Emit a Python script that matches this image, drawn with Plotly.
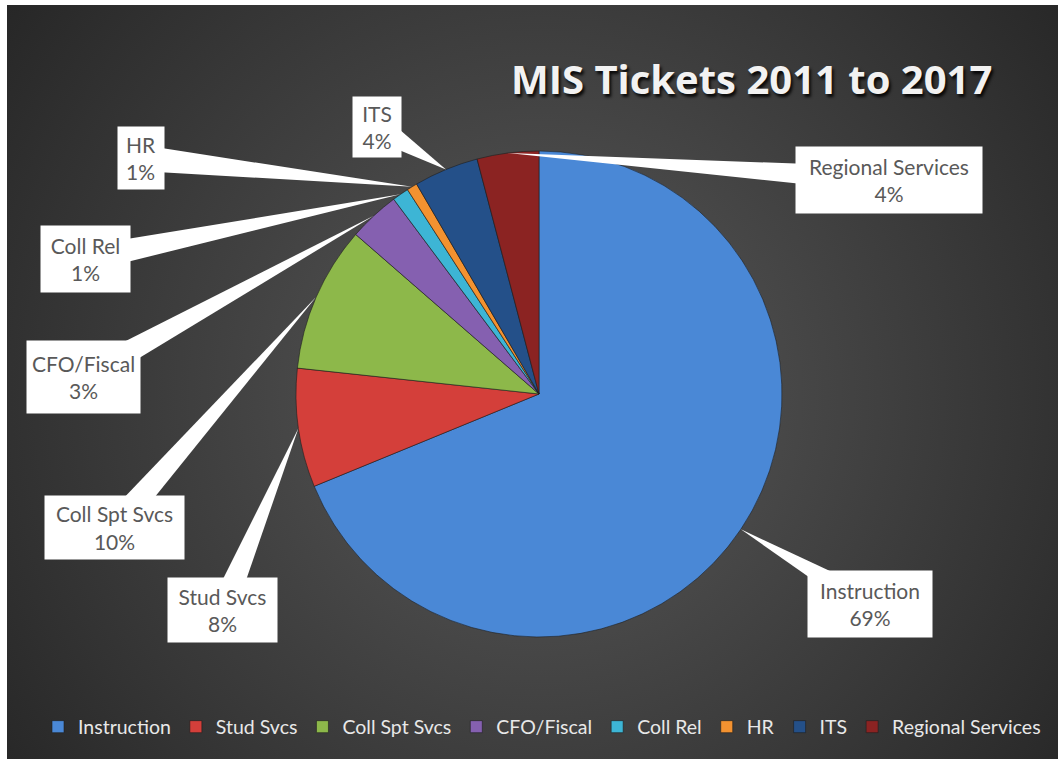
import math, base64
import plotly.graph_objects as go

categories = ["Instruction", "Stud Svcs", "Coll Spt Svcs", "CFO/Fiscal", "Coll Rel", "HR", "ITS", "Regional Services"]
values = [68.8, 7.9, 9.7, 3.4, 1.1, 0.7, 4.3, 4.1]
colors = ["#4A88D6", "#D43F3A", "#8DB84A", "#8560B0", "#3DB5D5", "#F39230", "#245089", "#8B2322"]
# label box centers (px) and sizes
box_centers = [(870, 604), (222, 610), (114, 527), (83, 377), (85, 259), (141, 158), (377, 127), (889, 180)]
box_sizes = [(124, 66), (109, 64), (139, 63), (113, 72), (89, 66), (46, 62), (48, 60), (186, 66)]

W, H = 1060, 762
cx, cy, R = 539, 394, 243

def px(x):
    return x / W

def py(y):
    return 1 - y / H

fig = go.Figure()

svg = f'''<svg xmlns="http://www.w3.org/2000/svg" width="{W}" height="{H}">
<defs><radialGradient id="g" cx="{cx}" cy="{cy}" r="680" gradientUnits="userSpaceOnUse">
<stop offset="0" stop-color="#5a5a5a"/><stop offset="1" stop-color="#262626"/></radialGradient></defs>
<rect x="0" y="0" width="{W}" height="{H}" fill="url(#g)"/></svg>'''
src = "data:image/svg+xml;base64," + base64.b64encode(svg.encode()).decode()

fig.add_trace(go.Pie(
    labels=categories, values=values, sort=False, direction="clockwise", rotation=0,
    marker=dict(colors=colors, line=dict(color="rgba(30,30,30,0.6)", width=1)),
    textinfo="none", hoverinfo="label+percent",
    domain=dict(x=[px(cx - R), px(cx + R)], y=[py(cy + R), py(cy - R)]),
))

total = sum(values)
shapes = []
annotations = []
cum = 0.0
for i, (cat, v) in enumerate(zip(categories, values)):
    mid = (cum + v / 2) / total * 2 * math.pi
    cum += v
    tx = cx + R * math.sin(mid)
    ty = cy - R * math.cos(mid)
    bx, by = box_centers[i]
    bw, bh = box_sizes[i]
    dx, dy = bx - tx, by - ty
    L = math.hypot(dx, dy)
    nx, ny = -dy / L, dx / L
    hw = 13
    p1 = (bx + nx * hw, by + ny * hw)
    p2 = (bx - nx * hw, by - ny * hw)
    path = f"M {px(tx)} {py(ty)} L {px(p1[0])} {py(p1[1])} L {px(p2[0])} {py(p2[1])} Z"
    shapes.append(dict(type="path", xref="paper", yref="paper", path=path,
                       fillcolor="white", line=dict(width=0), layer="above"))
    pct = round(v / total * 100)
    annotations.append(dict(
        x=px(bx), y=py(by), xref="paper", yref="paper", showarrow=False,
        xanchor="center", yanchor="middle",
        text=f"{cat}<br>{pct}%", align="center", width=bw, height=bh,
        bgcolor="white", borderpad=0, valign="middle",
        font=dict(family="Lato, Open Sans, sans-serif", size=21, color="#595959"),
    ))

annotations.append(dict(
    x=px(751), y=py(78), xref="paper", yref="paper", showarrow=False,
    xanchor="center", yanchor="middle",
    text="<b>MIS Tickets 2011 to 2017</b>",
    font=dict(family="Open Sans, sans-serif", size=40, color="#F2F2F2",
              shadow="2px 3px 3px rgba(0,0,0,0.85)"),
))

fig.update_layout(
    width=W, height=H, margin=dict(l=0, r=0, t=0, b=0),
    paper_bgcolor="white", plot_bgcolor="rgba(0,0,0,0)",
    images=[dict(source=src, xref="paper", yref="paper", x=px(7), y=py(5),
                 sizex=px(1058) - px(7), sizey=py(5) - py(759), sizing="stretch",
                 layer="below", xanchor="left", yanchor="top")],
    shapes=shapes, annotations=annotations,
    showlegend=True,
    legend=dict(orientation="h", x=px(542), xanchor="center", y=py(727), yanchor="middle",
                font=dict(family="Lato, Open Sans, sans-serif", size=19.5, color="#E8E8E8"),
                bgcolor="rgba(0,0,0,0)", itemwidth=30, tracegroupgap=0),
)

fig.write_html("out.html")
